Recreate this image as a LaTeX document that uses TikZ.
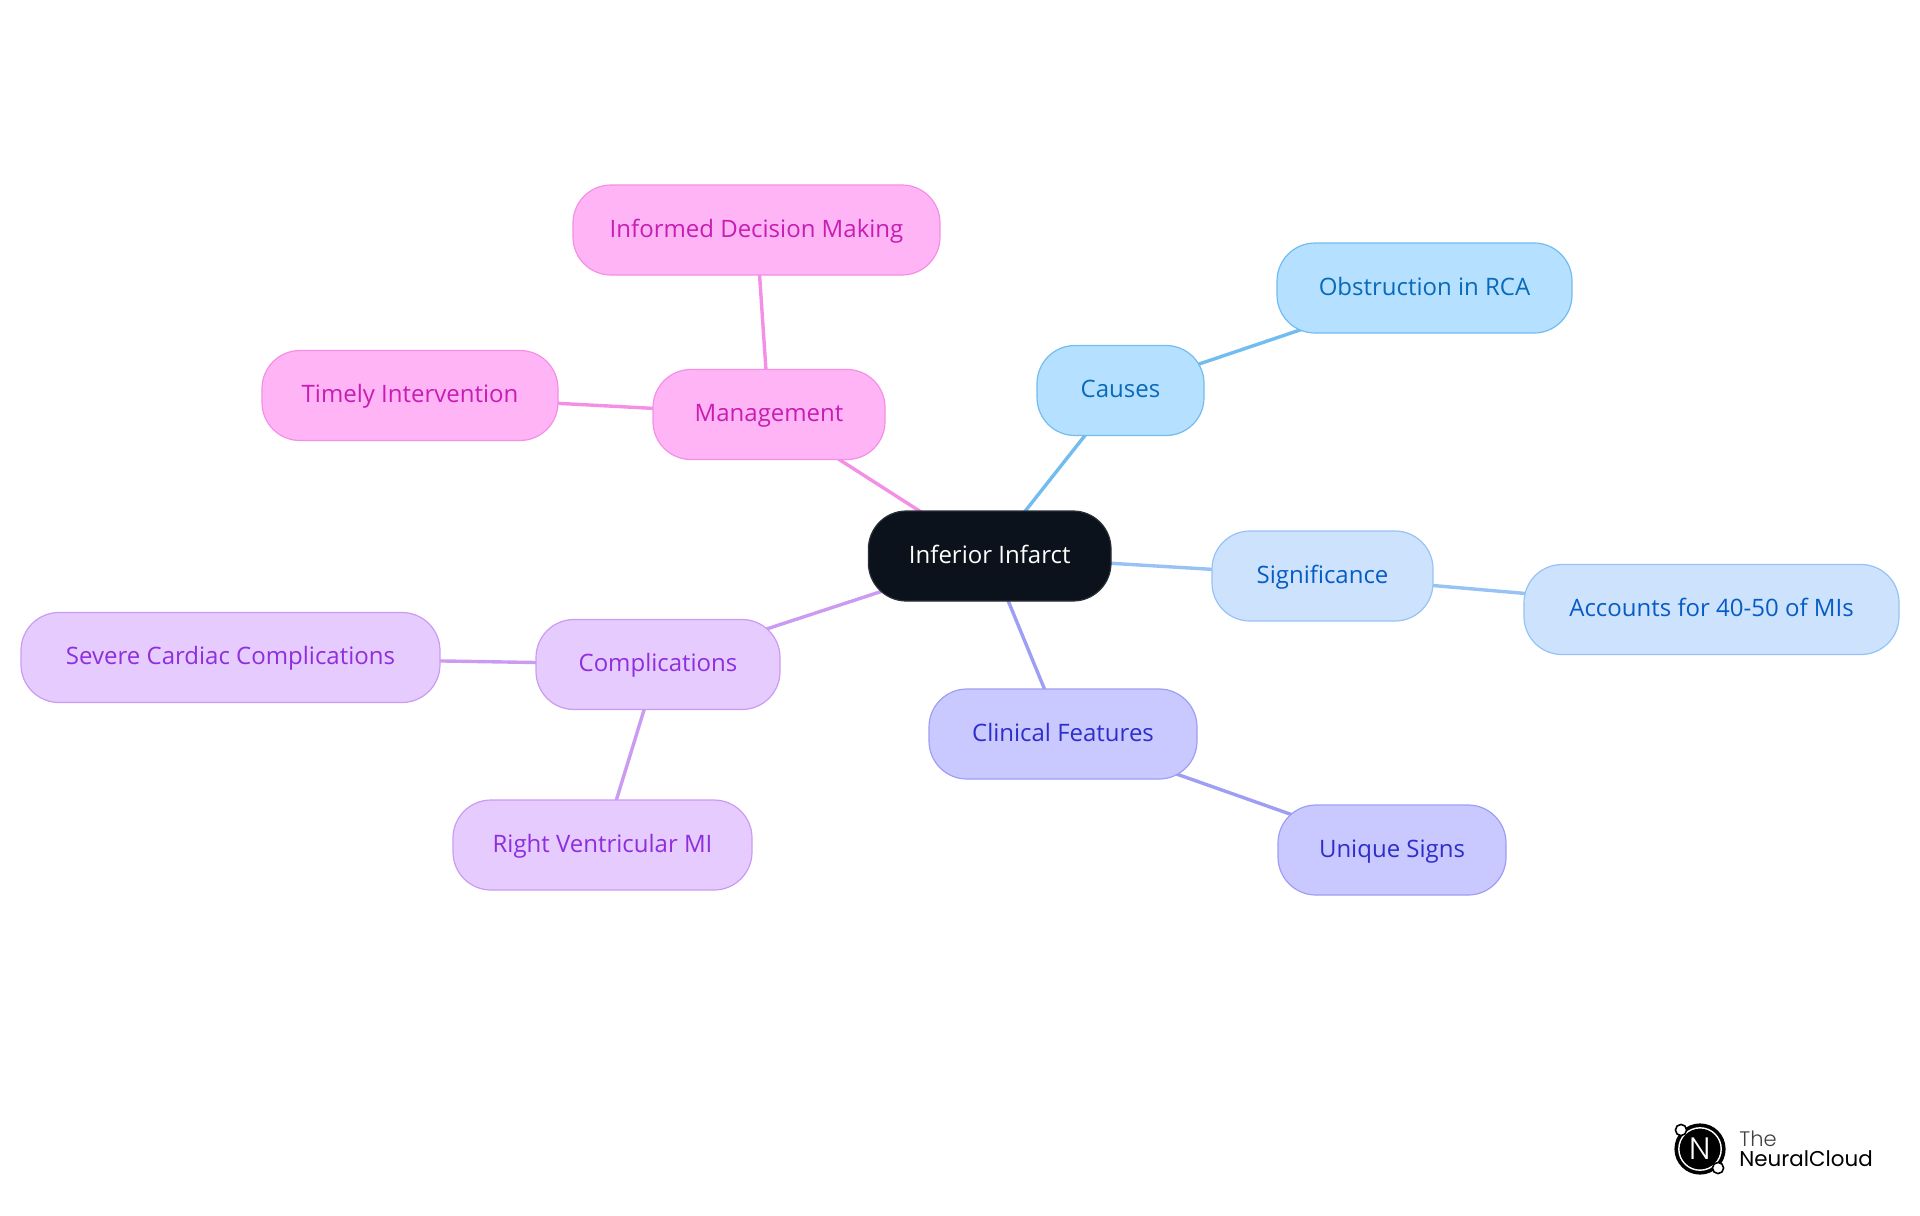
\documentclass[tikz,border=0pt]{standalone}
\usepackage{fontspec}
\setmainfont{Open Sans}
\newfontfamily\logofont{Poppins}
\newfontfamily\logolight{Poppins Light}
\usetikzlibrary{backgrounds}
\definecolor{rootfill}{HTML}{0B121B}\definecolor{rootline}{HTML}{2A3038}
\definecolor{bfill}{HTML}{B5E0FF}\definecolor{bline}{HTML}{72BCF0}\definecolor{btext}{HTML}{0A6AB8}
\definecolor{sfill}{HTML}{CDE3FD}\definecolor{sline}{HTML}{96C2F5}\definecolor{stext}{HTML}{075CC4}
\definecolor{ifill}{HTML}{C9C9FF}\definecolor{iline}{HTML}{9E9EF4}\definecolor{itext}{HTML}{2E2ECB}
\definecolor{pfill}{HTML}{E6CBFF}\definecolor{pline}{HTML}{CB9BF2}\definecolor{ptext}{HTML}{8F2EDD}
\definecolor{mfill}{HTML}{FFB5F5}\definecolor{mline}{HTML}{F48FE6}\definecolor{mtext}{HTML}{C71DB3}
\tikzset{x=0.5pt,y=-0.5pt,
 mm/.style n args={3}{draw=#2,fill=#1,text=#3,line width=0.6pt,rounded corners=19pt,inner sep=0pt,anchor=center,text height=9pt,text depth=2pt,font=\fontsize{12}{14}\selectfont},
 rootnode/.style={mm={rootfill}{rootline}{white},minimum width=121.3pt,minimum height=45pt},
 bnode/.style={mm={bfill}{bline}{btext},minimum height=45pt},
 snode/.style={mm={sfill}{sline}{stext},minimum height=45pt},
 inode/.style={mm={ifill}{iline}{itext},minimum height=45pt},
 pnode/.style={mm={pfill}{pline}{ptext},minimum height=45pt},
 mnode/.style={mm={mfill}{mline}{mtext},minimum height=45pt},
 conn/.style={line width=1.7pt}}
\begin{document}
\begin{tikzpicture}
\useasboundingbox (0,0) rectangle (1920,1215);
\node[rootnode] (root) at (989.7,556) {Inferior Infarct};
\node[bnode,minimum width=83.5pt] (causes) at (1120.5,390.5) {Causes};
\node[bnode,minimum width=147.5pt] (rca) at (1424.5,288) {Obstruction in RCA};
\node[snode,minimum width=110.5pt] (sig) at (1322.5,576) {Significance};
\node[snode,minimum width=187.5pt] (acc) at (1711.5,609.5) {Accounts for 40-50 of MIs};
\node[inode,minimum width=134pt] (clin) at (1063,734) {Clinical Features};
\node[inode,minimum width=114pt] (uniq) at (1392,850) {Unique Signs};
\node[mnode,minimum width=116pt] (mgmt) at (769,414.5) {Management};
\node[mnode,minimum width=183.5pt] (info) at (756.5,230) {Informed Decision Making};
\node[mnode,minimum width=148pt] (time) at (410,395.5) {Timely Intervention};
\node[pnode,minimum width=122pt] (comp) at (658,664.5) {Complications};
\node[pnode,minimum width=209.5pt] (sev) at (230.5,657.5) {Severe Cardiac Complications};
\node[pnode,minimum width=149.5pt] (rv) at (602.5,845) {Right Ventricular MI};
\begin{scope}[on background layer]
\draw[conn,bline] (root.center) -- (causes.center);
\draw[conn,bline] (causes.center) -- (rca.center);
\draw[conn,sline] (root.center) -- (sig.center);
\draw[conn,sline] (sig.center) -- (acc.center);
\draw[conn,iline] (root.center) -- (clin.center);
\draw[conn,iline] (clin.center) -- (uniq.center);
\draw[conn,mline] (root.center) -- (mgmt.center);
\draw[conn,mline] (mgmt.center) -- (info.center);
\draw[conn,mline] (mgmt.center) -- (time.center);
\draw[conn,pline] (root.center) -- (comp.center);
\draw[conn,pline] (comp.center) -- (sev.center);
\draw[conn,pline] (comp.center) -- (rv.center);
\end{scope}
% logo
\fill[black] (1700,1149) circle[radius=12.8pt];
\draw[white,line width=0.7pt] (1700,1149) circle[radius=10.6pt];
\node[text=white,inner sep=0pt,font=\logolight\fontsize{15.5}{15.5}\selectfont] (logon) at (1700,1149) {N};
\filldraw[fill=white,draw=black,line width=0.8pt] (1681,1130) circle[radius=2.8pt];
\filldraw[fill=white,draw=black,line width=0.8pt] (1718,1168) circle[radius=2.8pt];
\node[anchor=base west,inner sep=0pt,text=black!75,font=\logolight\fontsize{10.5}{12}\selectfont] (logoa) at (1739,1146) {The};
\node[anchor=base west,inner sep=0pt,text=black,font=\logofont\fontsize{10.7}{12}\selectfont] (logob) at (1739,1166) {NeuralCloud};
\end{tikzpicture}
\end{document}
